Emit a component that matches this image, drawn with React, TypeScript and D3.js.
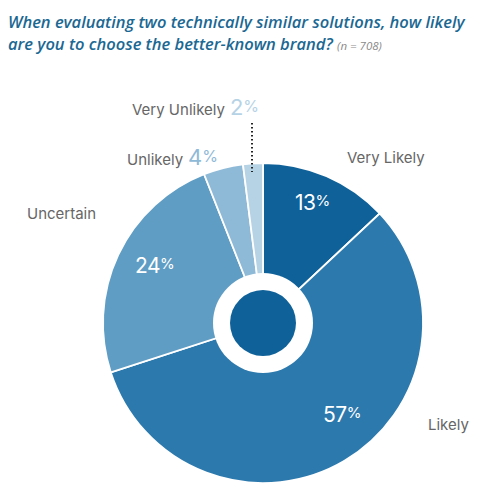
import React, { useEffect, useRef } from 'react';
import * as d3 from 'd3';

const categories = ['Very Likely', 'Likely', 'Uncertain', 'Unlikely', 'Very Unlikely'];
const values = [13, 57, 24, 4, 2];
const colors = ['#0f6199', '#2c79ae', '#5f9dc4', '#8fbad7', '#b6d3e6'];

const App: React.FC = () => {
    const svgRef = useRef<SVGSVGElement>(null);

    useEffect(() => {
        if (!svgRef.current) return;
        const width = 500;
        const height = 497;
        const cx = 263;
        const cy = 323;
        const radius = 160;

        const svg = d3.select(svgRef.current);
        svg.selectAll('*').remove();
        svg.attr('width', width).attr('height', height);

        svg.append('rect').attr('width', width).attr('height', height).attr('fill', '#fff');

        // Title
        const title = svg.append('text')
            .attr('x', 8)
            .style('font-family', '"Open Sans", sans-serif')
            .style('font-style', 'italic')
            .style('font-weight', 600)
            .style('fill', '#1b6893');
        title.append('tspan').attr('x', 8).attr('y', 28).style('font-size', '16.5px')
            .text('When evaluating two technically similar solutions, how likely');
        title.append('tspan').attr('x', 8).attr('y', 50).style('font-size', '16.5px')
            .text('are you to choose the better-known brand? ');
        title.append('tspan').style('font-size', '11.5px').style('fill', '#8a8a8a').style('font-weight', 400)
            .text('(n = 708)');

        const data = categories.map((c, i) => ({ label: c, value: values[i], color: colors[i] }));

        const pie = d3.pie<any>().sort(null).value(d => d.value);
        const arcs = pie(data);
        const arc = d3.arc<any>().innerRadius(0).outerRadius(radius);

        const g = svg.append('g').attr('transform', `translate(${cx},${cy})`);

        g.selectAll('path.slice')
            .data(arcs)
            .enter()
            .append('path')
            .attr('class', 'slice')
            .attr('d', arc as any)
            .attr('fill', d => d.data.color)
            .attr('stroke', '#fff')
            .attr('stroke-width', 1.8);

        g.append('circle').attr('r', 50).attr('fill', '#fff');
        g.append('circle').attr('r', 33).attr('fill', colors[0]);

        const font = 'Inter, "Noto Sans", sans-serif';

        // Inner percentage labels
        const pctLabel = (x: number, y: number, v: number) => {
            const t = svg.append('text')
                .attr('x', x).attr('y', y)
                .style('font-family', font)
                .style('fill', '#fff');
            t.append('tspan').style('font-size', '21px').style('letter-spacing', '-0.5px').text(String(v));
            t.append('tspan').style('font-size', '15px').attr('dy', -4).text('%');
        };
        pctLabel(295, 210, values[0]);
        pctLabel(323, 422, values[1]);
        pctLabel(135, 273, values[2]);

        // Outside labels
        const outLabel = (x: number, y: number, text: string, v?: number, c?: string) => {
            const t = svg.append('text')
                .attr('x', x).attr('y', y)
                .style('font-family', font)
                .style('font-size', '15px')
                .style('fill', '#666');
            t.append('tspan').text(text);
            if (v !== undefined) {
                t.append('tspan').attr('dx', 5).style('font-size', '22px').style('fill', c!).text(String(v));
                t.append('tspan').attr('dy', -3).style('font-size', '16px').style('fill', c!).text('%');
            }
        };
        outLabel(347, 163, categories[0]);
        outLabel(428, 430, categories[1]);
        outLabel(27, 219, categories[2]);
        outLabel(127, 165, categories[3], values[3], colors[3]);
        outLabel(132, 115, categories[4], values[4], colors[4]);

        // Leader for Very Unlikely
        svg.append('line')
            .attr('x1', 252).attr('y1', 123)
            .attr('x2', 252).attr('y2', 172)
            .attr('stroke', '#222')
            .attr('stroke-width', 2)
            .attr('stroke-dasharray', '1.5,2.5');
    }, []);

    return <svg ref={svgRef} style={{ display: 'block', position: 'absolute', left: 0, top: 0 }}></svg>;
};

export default App;
